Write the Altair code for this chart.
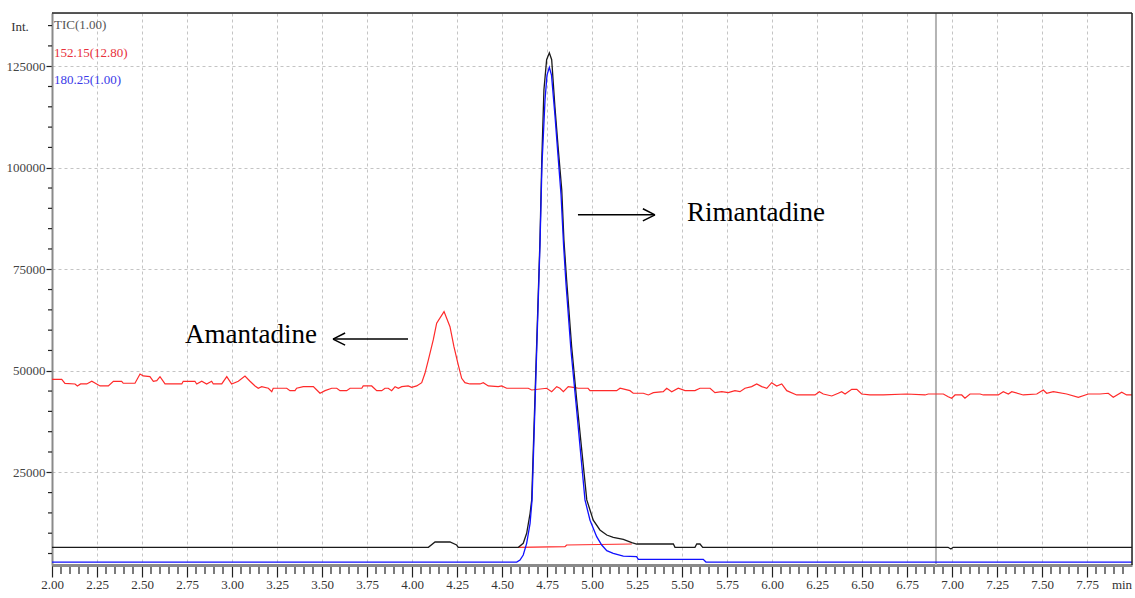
import altair as alt
import pandas as pd
import numpy as np

# ---- data (time in min, intensity) ----
red_t = [2.00, 2.054, 2.072, 2.128, 2.141, 2.159, 2.193, 2.221, 2.248, 2.267, 2.313, 2.341, 2.387, 2.396,
         2.461, 2.489, 2.507, 2.544, 2.563, 2.582, 2.600, 2.628, 2.721, 2.729, 2.794, 2.804, 2.832, 2.859,
         2.887, 2.896, 2.943, 2.971, 2.998, 3.035, 3.072, 3.100, 3.128, 3.146, 3.165, 3.202, 3.221, 3.229,
         3.304, 3.322, 3.350, 3.359, 3.396, 3.452, 3.471, 3.489, 3.517, 3.554, 3.582, 3.600, 3.637, 3.656,
         3.721, 3.729, 3.776, 3.804, 3.832, 3.850, 3.868, 3.887, 3.906, 3.924, 3.943, 3.979, 3.998, 4.026,
         4.054, 4.072, 4.091, 4.118, 4.137, 4.178, 4.211, 4.233, 4.257, 4.276, 4.294, 4.322, 4.378, 4.396,
         4.424, 4.479, 4.498, 4.526, 4.646, 4.665, 4.748, 4.776, 4.804, 4.822, 4.841, 4.868, 4.896, 4.924,
         4.978, 4.989, 5.026, 5.137, 5.156, 5.211, 5.229, 5.285, 5.313, 5.341, 5.396, 5.415, 5.443, 5.479,
         5.517, 5.572, 5.600, 5.656, 5.683, 5.721, 5.757, 5.794, 5.822, 5.850, 5.887, 5.915, 5.943, 5.971,
         5.998, 6.026, 6.054, 6.082, 6.137, 6.239, 6.263, 6.285, 6.332, 6.368, 6.387, 6.406, 6.443, 6.471,
         6.498, 6.544, 6.618, 6.748, 6.850, 6.868, 6.952, 6.979, 6.998, 7.017, 7.054, 7.072, 7.100, 7.156,
         7.174, 7.257, 7.285, 7.313, 7.332, 7.396, 7.471, 7.507, 7.526, 7.563, 7.637, 7.702, 7.757, 7.822,
         7.868, 7.896, 7.943, 7.970, 8.000]
red_i = [47900, 47900, 46900, 46750, 46260, 46750, 46750, 47410, 46750, 46260, 46260, 47410, 47410, 46920,
         46920, 49210, 48720, 48550, 47410, 47560, 48550, 46750, 46750, 47410, 47410, 46750, 47410, 46750,
         47410, 46750, 46750, 48550, 46750, 47410, 48720, 47410, 46260, 45690, 46090, 45690, 44850, 45690,
         45690, 45100, 45100, 45690, 46090, 46090, 45270, 44460, 45100, 45690, 45690, 45100, 45100, 45690,
         45690, 46260, 46260, 45100, 45100, 45690, 45690, 45100, 46090, 45690, 46090, 46260, 45930, 46260,
         47070, 49380, 52660, 57580, 61700, 64560, 60860, 55940, 51430, 48150, 47070, 46750, 46750, 47070,
         46260, 46090, 46260, 45690, 45690, 45270, 45690, 44850, 46090, 45690, 44850, 46090, 45930, 45690,
         45690, 45100, 45100, 45100, 45690, 45100, 44460, 44460, 44040, 44610, 44850, 45690, 44850, 45690,
         45100, 45100, 45690, 45690, 44610, 44850, 44610, 45100, 44850, 45690, 46090, 46750, 46090, 45690,
         47070, 46260, 46750, 45100, 44040, 44040, 44850, 44280, 43790, 44460, 44850, 44280, 45440, 45440,
         44280, 44040, 44040, 44280, 44040, 44280, 44280, 43620, 43230, 44040, 44040, 43230, 44280, 44280,
         44040, 44040, 44850, 44280, 44850, 44040, 44280, 45270, 44460, 44850, 44280, 43470, 44280, 44280,
         44460, 43470, 44700, 44040, 44040]

red_low_t = [4.591, 4.850, 4.859, 5.221]
red_low_i = [6530, 6680, 7090, 7340]

tic_t = [2.00, 4.091, 4.128, 4.211, 4.248, 4.257, 4.591, 4.618, 4.637, 4.656, 4.665, 4.711, 4.721, 4.733,
         4.748, 4.763, 4.776, 4.794, 4.813, 4.832, 4.844, 4.859, 4.887, 4.915, 4.971, 5.007, 5.044, 5.082,
         5.118, 5.174, 5.221, 5.248, 5.452, 5.461, 5.572, 5.582, 5.600, 5.615, 6.978, 6.994, 7.006, 8.00]
tic_i = [6530, 6530, 7830, 7830, 7090, 6530, 6530, 7510, 9980, 14900, 18200, 82200, 101900, 119200,
         126600, 128300, 126600, 115000, 104400, 94500, 82200, 72400, 55900, 42800, 18200, 13200, 10800, 9560,
         8990, 8500, 7660, 7340, 7340, 6530, 6530, 7340, 7340, 6530, 6530, 6110, 6530, 6530]

blue_t = [2.00, 4.582, 4.600, 4.618, 4.637, 4.656, 4.667, 4.711, 4.722, 4.739, 4.750, 4.763, 4.775, 4.794,
          4.811, 4.828, 4.842, 4.856, 4.883, 4.911, 4.961, 4.989, 5.026, 5.054, 5.082, 5.118, 5.174, 5.248,
          5.257, 5.618, 5.633, 8.00]
blue_i = [2900, 2900, 3400, 4630, 7510, 12440, 18200, 81000, 100700, 116700, 122800, 124700, 122800, 113000,
          103100, 93300, 81000, 71100, 55100, 42100, 18200, 13200, 9140, 7090, 5690, 5050, 4380, 4210,
          3570, 3570, 2900, 2900]

marker_t = [6.911]

x_major = [round(2.0 + 0.25 * k, 2) for k in range(24)]
x_minor = [round(2.0 + 0.05 * k, 2) for k in range(121) if k % 5 != 0]
y_major = [25000, 50000, 75000, 100000, 125000]
y_minor = [v for v in range(5000, 138001, 5000) if v % 25000 != 0]

ann_labels = ["Amantadine", "Rimantadine"]
ann_text_t = [2.739, 5.528]
ann_text_i = [56800, 86900]
arrow_from_t = [3.978, 4.922]
arrow_to_t = [3.561, 5.350]
arrow_i = [57800, 88400]
arrow_shape = ["M0,0L1.4,-0.7M0,0L1.4,0.7", "M0,0L-1.4,-0.7M0,0L-1.4,0.7"]

legend_labels = ["TIC(1.00)", "152.15(12.80)", "180.25(1.00)"]
legend_colors = ["#555555", "#e8303c", "#3a3ae8"]
legend_y = [12, 40, 67]

W, H = 1080, 552
SERIF = "Liberation Serif"

xs = alt.Scale(domain=[2.0, 8.0], nice=False, zero=False)
ys = alt.Scale(domain=[2170, 138100], nice=False, zero=False)

x_axis = alt.Axis(values=x_major, format=".2f", grid=True, gridDash=[3, 3], gridColor="#c4c4c4",
                  gridWidth=1, labelFont=SERIF, labelFontSize=13, labelColor="#333333",
                  tickSize=12, tickColor="#222222", tickWidth=1.2, domainColor="#8a8a8a",
                  domainWidth=3, labelPadding=1, title=None, labelFlush=False)
y_axis = alt.Axis(values=y_major, format="d", grid=True, gridDash=[3, 3], gridColor="#c4c4c4",
                  gridWidth=1, labelFont=SERIF, labelFontSize=13, labelColor="#444444",
                  tickSize=6, tickColor="#222222", tickWidth=1.2, domainColor="#8a8a8a",
                  domainWidth=2, labelPadding=1, title=None)


def X(field):
    return alt.X(field, scale=xs, axis=x_axis)


def Y(field):
    return alt.Y(field, scale=ys, axis=y_axis)


red = pd.DataFrame({"t": red_t, "i": red_i})
red_low = pd.DataFrame({"t": red_low_t, "i": red_low_i})
tic = pd.DataFrame({"t": tic_t, "i": tic_i})
blue = pd.DataFrame({"t": blue_t, "i": blue_i})

grid_layer = alt.Chart(pd.DataFrame({"t": [2.0, 8.0], "i": [2170, 138100]})).mark_point(opacity=0).encode(
    x=X("t:Q"), y=Y("i:Q"))

red_line = alt.Chart(red).mark_line(color="#ff2a2a", strokeWidth=1.2).encode(x=X("t:Q"), y=Y("i:Q"))
red_low_line = alt.Chart(red_low).mark_line(color="#ff2a2a", strokeWidth=1.2).encode(x=X("t:Q"), y=Y("i:Q"))
tic_line = alt.Chart(tic).mark_line(color="#1a1a1a", strokeWidth=1.3).encode(x=X("t:Q"), y=Y("i:Q"))
blue_line = alt.Chart(blue).mark_line(color="#1010ff", strokeWidth=1.3).encode(x=X("t:Q"), y=Y("i:Q"))

marker = alt.Chart(pd.DataFrame({"t": marker_t})).mark_rule(color="#b4b4b4", strokeWidth=2).encode(
    x=X("t:Q"))

xminor = alt.Chart(pd.DataFrame({"t": x_minor})).mark_rule(color="#222222", strokeWidth=1.2).encode(
    x=X("t:Q"), y=alt.value(H + 2), y2=alt.value(H + 9))

yminor = alt.Chart(pd.DataFrame({"i": y_minor})).mark_rule(color="#222222", strokeWidth=1.2).encode(
    y=Y("i:Q"), x=alt.value(-4), x2=alt.value(0))

ann = pd.DataFrame({"label": ann_labels, "t": ann_text_t, "i": ann_text_i})
ann_text = alt.Chart(ann).mark_text(font=SERIF, fontSize=27, color="#000000", align="left",
                                    baseline="alphabetic").encode(
    x=X("t:Q"), y=Y("i:Q"), text="label:N")

arr = pd.DataFrame({"t": arrow_from_t, "t2": arrow_to_t, "i": arrow_i, "shape": arrow_shape})
arrow_shaft = alt.Chart(arr).mark_rule(color="#000000", strokeWidth=1.5).encode(
    x=X("t:Q"), x2="t2:Q", y=Y("i:Q"))
arrow_head = alt.Chart(arr).mark_point(color="#000000", filled=False, strokeWidth=1.5, size=300,
                                       opacity=1).encode(
    x=X("t2:Q"), y=Y("i:Q"), shape=alt.Shape("shape:N", scale=None))

top_border = alt.Chart(pd.DataFrame({"a": [0]})).mark_rule(color="#222222", strokeWidth=1.5).encode(
    x=alt.value(0), x2=alt.value(W), y=alt.value(0))
right_border = alt.Chart(pd.DataFrame({"a": [0]})).mark_rule(color="#222222", strokeWidth=1.5).encode(
    x=alt.value(W), y=alt.value(0), y2=alt.value(H))

legend_layers = []
for lab, col, yy in zip(legend_labels, legend_colors, legend_y):
    legend_layers.append(
        alt.Chart(pd.DataFrame({"label": [lab]})).mark_text(
            font=SERIF, fontSize=13, align="left", baseline="middle", color=col).encode(
            x=alt.value(2), y=alt.value(yy), text="label:N"))

int_text = alt.Chart(pd.DataFrame({"label": ["Int."]})).mark_text(
    font=SERIF, fontSize=13, color="#333333", align="center", baseline="middle").encode(
    x=alt.value(-32), y=alt.value(14), text="label:N")
min_text = alt.Chart(pd.DataFrame({"label": ["min"]})).mark_text(
    font=SERIF, fontSize=13, color="#333333", align="center", baseline="middle").encode(
    x=alt.value(1070), y=alt.value(572), text="label:N")

chart = alt.layer(grid_layer, marker, red_line, red_low_line, tic_line, blue_line, xminor, yminor,
                  ann_text, arrow_shaft, arrow_head, top_border, right_border,
                  *legend_layers, int_text, min_text).properties(
    width=W, height=H, autosize="none",
    padding={"left": 52, "top": 13, "right": 3, "bottom": 33},
).configure_view(stroke=None).configure(background="white")

chart.save("out.html", embed_options={"renderer": "svg", "actions": False})
